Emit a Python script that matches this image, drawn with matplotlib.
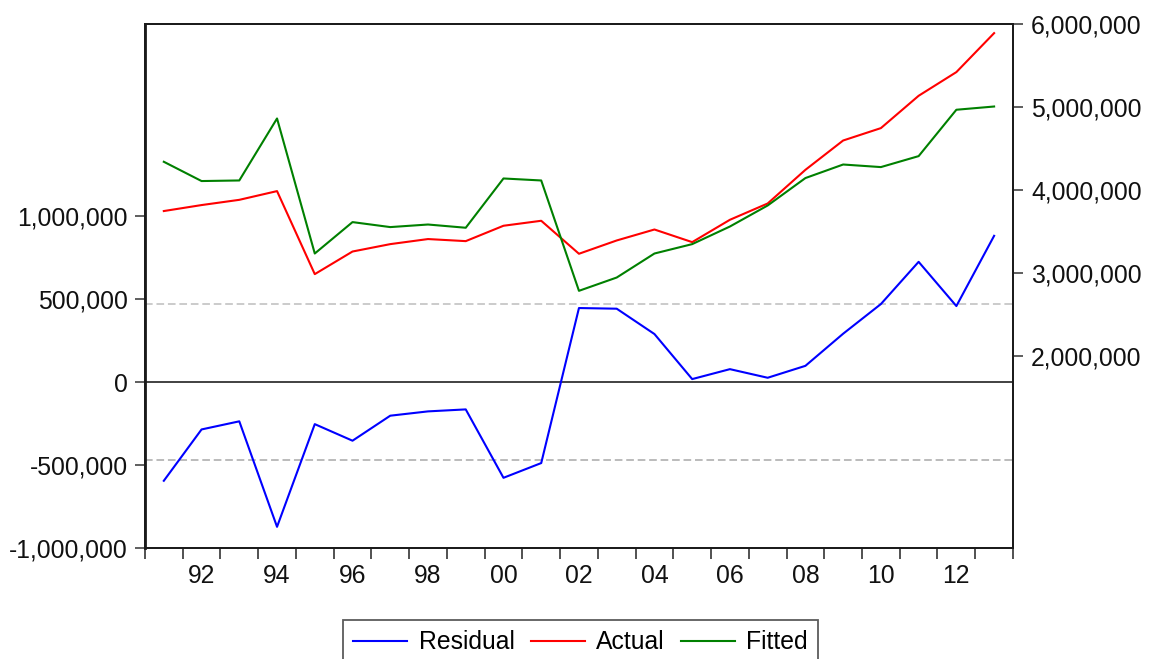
import numpy as np
import matplotlib
matplotlib.use("Agg")
import matplotlib.pyplot as plt
from matplotlib.ticker import FuncFormatter, FixedLocator

plt.rcParams['font.family'] = ['Liberation Sans', 'DejaVu Sans']

years = list(range(1991, 2014))

residual = [-596000, -286000, -237000, -874000, -254000, -354000, -203000,
            -177000, -165000, -578000, -489000, 447000, 443000, 290000,
            18000, 78000, 26000, 98000, 292000, 471000, 726000, 459000,
            883000]

actual = [3749000, 3821000, 3884000, 3989000, 2990000, 3262000, 3351000,
          3412000, 3387000, 3572000, 3632000, 3235000, 3395000, 3527000,
          3375000, 3644000, 3840000, 4245000, 4598000, 4747000, 5136000,
          5421000, 5890000]

fitted = [4342000, 4110000, 4117000, 4863000, 3238000, 3616000, 3556000,
          3587000, 3548000, 4141000, 4117000, 2789000, 2949000, 3238000,
          3351000, 3563000, 3816000, 4146000, 4309000, 4278000, 4410000,
          4968000, 5007000]

resid_sd = 471000

left_ticks = [-1000000, -500000, 0, 500000, 1000000]
right_ticks = [2000000, 3000000, 4000000, 5000000, 6000000]
label_years = list(range(1992, 2013, 2))

fmt = FuncFormatter(lambda v, p: "{:,.0f}".format(v))
FS = 17.8

fig = plt.figure(figsize=(11.54, 6.59), dpi=100)
ax = fig.add_axes([0.1256, 0.1689, 0.7522, 0.7947])
ax2 = ax.twinx()

# residual on left axis
ax.axhline(0, color='#333333', lw=1.3, zorder=1)
ax.axhline(resid_sd, color='#bdbdbd', lw=1.1, ls=(0, (5, 2.5)), zorder=1)
ax.axhline(-resid_sd, color='#a8a8a8', lw=1.1, ls=(0, (5, 2.5)), zorder=1)
l1, = ax.plot(years, residual, color='#0000ff', lw=1.5, label='Residual')

# actual / fitted on right axis
l2, = ax2.plot(years, actual, color='#ff0000', lw=1.5, label='Actual')
l3, = ax2.plot(years, fitted, color='#008000', lw=1.5, label='Fitted')

ax.set_xlim(1990.5, 2013.5)
ax.set_ylim(-1000000, 2162000)
ax2.set_ylim(-302000, 6000000)

ax.yaxis.set_major_locator(FixedLocator(left_ticks))
ax.yaxis.set_major_formatter(fmt)
ax2.yaxis.set_major_locator(FixedLocator(right_ticks))
ax2.yaxis.set_major_formatter(fmt)

# x: ticks at year boundaries, labels at even years
ax.xaxis.set_major_locator(FixedLocator(np.arange(1990.5, 2014, 1.0)))
ax.xaxis.set_major_formatter(FuncFormatter(lambda v, p: ""))
ax.xaxis.set_minor_locator(FixedLocator(label_years))
ax.xaxis.set_minor_formatter(FuncFormatter(lambda v, p: "%02d" % (int(v) % 100)))

ax.tick_params(axis='x', which='major', direction='out', length=8,
               width=1.2, color='#333333')
ax.tick_params(axis='x', which='minor', length=0, pad=12,
               labelsize=FS, labelcolor='#111111')
ax.tick_params(axis='y', direction='out', length=7.5, width=1.1,
               color='#333333', pad=5, labelsize=FS, labelcolor='#111111')
ax2.tick_params(axis='y', direction='out', length=7, width=1.1,
                color='#333333', pad=6, labelsize=FS, labelcolor='#111111')

for a in (ax, ax2):
    for s in a.spines.values():
        s.set_color('#1a1a1a')
        s.set_linewidth(1.3)
ax.spines['left'].set_linewidth(2.0)

leg = fig.legend(handles=[l1, l2, l3], loc='upper center',
                 bbox_to_anchor=(0.503, 1 - 620 / 659), ncol=3,
                 fontsize=FS, frameon=True, fancybox=False,
                 handlelength=2.2, handletextpad=0.45, columnspacing=0.65,
                 borderpad=0.42, borderaxespad=0)
leg.get_frame().set_edgecolor('#333333')
leg.get_frame().set_linewidth(1.3)

fig.savefig("out.png", dpi=100)
